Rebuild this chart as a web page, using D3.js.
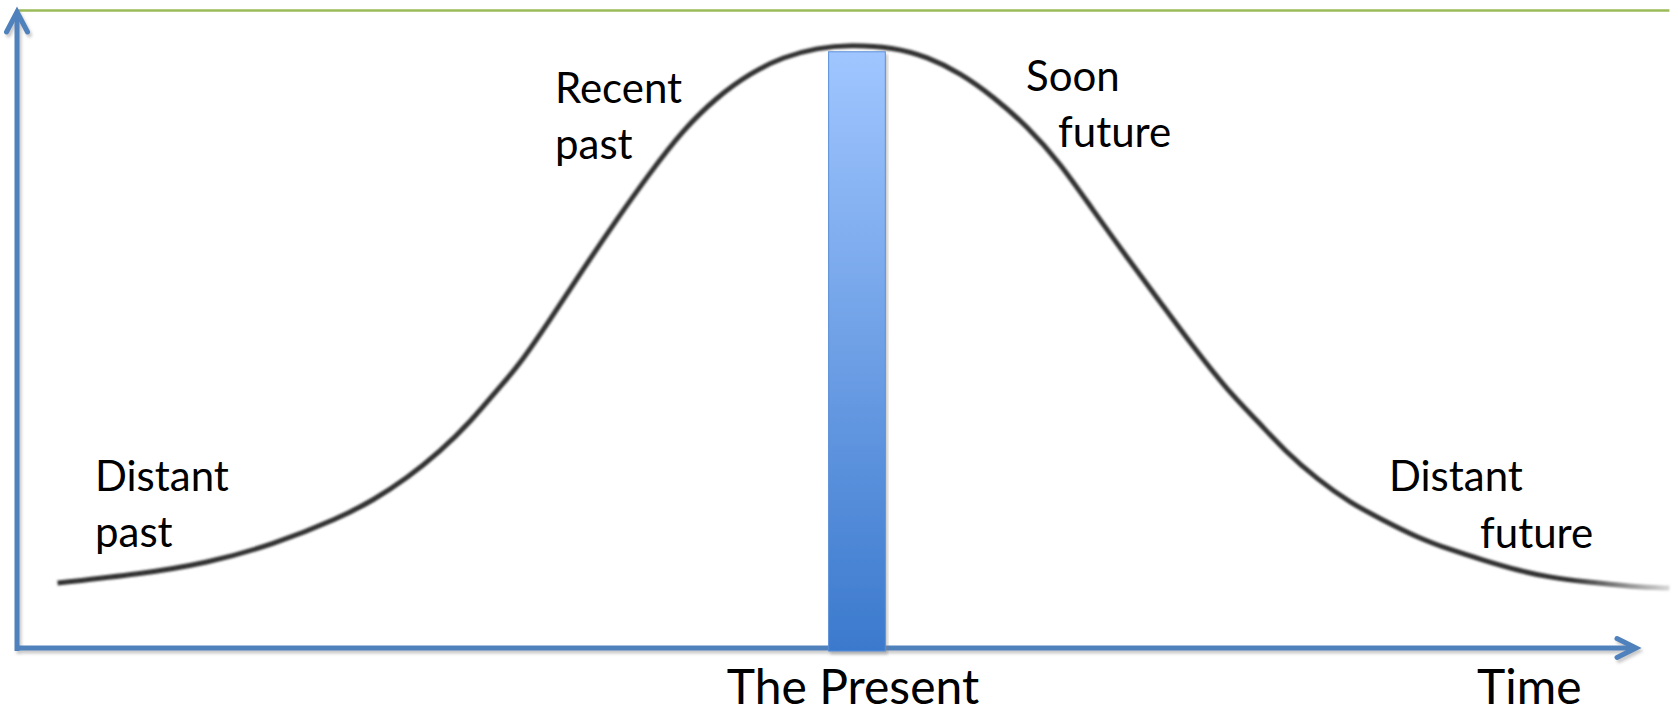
<!DOCTYPE html>
<html>
<head>
<meta charset="utf-8">
<script src="https://cdn.jsdelivr.net/npm/d3@7"></script>
<style>
  html, body { margin: 0; padding: 0; background: #fff; }
  svg { display: block; }
</style>
</head>
<body>
<div id="chart"></div>
<script>
// time runs 0..100 along the axis, attention 0..100 up the axis
const timeValues = [2.5, 7.6, 11.7, 15.8, 19.9, 22.0, 24.1, 26.1, 28.0, 29.8, 30.9, 32.9, 34.9, 37.0, 39.1, 41.1, 43.2, 45.3, 47.3, 49.4, 51.4,
  54.1, 56.2, 58.2, 60.3, 62.4, 64.4, 66.4, 68.5, 70.6, 72.6, 74.7, 76.7, 78.2, 80.3, 82.3, 84.3, 86.4, 88.5, 90.5, 92.6, 94.6, 96.7, 99.8, 102.0];
const attentionValues = [10.2, 11.6, 13.3, 16.2, 20.4, 23.2, 26.7, 30.8, 35.5, 41.0, 44.1, 51.5, 59.3, 67.2, 74.7, 81.3, 86.5, 90.3, 92.8, 94.2, 94.7,
  94.3, 92.8, 90.3, 86.5, 81.8, 76.1, 68.8, 61.4, 54.2, 47.3, 40.5, 35.3, 31.1, 26.4, 22.8, 20.1, 17.4, 15.4, 13.8, 12.2, 11.1, 10.4, 9.6, 9.4];
const presentSpan = [50.1, 53.6];
const presentValue = 93.6;
const curveLabels = [["Recent", "past"], ["Soon", "future"], ["Distant", "past"], ["Distant", "future"]];
const axisLabels = ["The Present", "Time"];

const width = 1678, height = 717;
const axisBlue = "#4f81bd";
const font = "Lato, 'Open Sans', sans-serif";

const svg = d3.select("#chart").append("svg")
  .attr("width", width)
  .attr("height", height);

const x = d3.scaleLinear().domain([0, 100]).range([17, 1637]);
const y = d3.scaleLinear().domain([0, 100]).range([648, 11]);

const defs = svg.append("defs");

const grad = defs.append("linearGradient")
  .attr("id", "barGrad")
  .attr("x1", 0).attr("y1", 0).attr("x2", 0).attr("y2", 1);
grad.append("stop").attr("offset", "0%").attr("stop-color", "#a0c6ff");
grad.append("stop").attr("offset", "100%").attr("stop-color", "#3b79cd");

// right tail of the curve fades out
const fade = defs.append("linearGradient")
  .attr("id", "curveFade")
  .attr("gradientUnits", "userSpaceOnUse")
  .attr("x1", x(96)).attr("y1", 0).attr("x2", x(102)).attr("y2", 0);
fade.append("stop").attr("offset", "0%").attr("stop-color", "#333");
fade.append("stop").attr("offset", "100%").attr("stop-color", "#d8d8d8");

const shadow = defs.append("filter").attr("id", "shadow")
  .attr("x", "-5%").attr("y", "-5%").attr("width", "110%").attr("height", "110%");
shadow.append("feDropShadow")
  .attr("dx", 2).attr("dy", 3).attr("stdDeviation", 1.5)
  .attr("flood-color", "#888").attr("flood-opacity", 0.45);

const soft = defs.append("filter").attr("id", "soft");
soft.append("feGaussianBlur").attr("stdDeviation", 0.9);

// green top rule
svg.append("line")
  .attr("x1", x(0)).attr("x2", x(102))
  .attr("y1", y(100) - 0.5).attr("y2", y(100) - 0.5)
  .attr("stroke", "#9bbb59")
  .attr("stroke-width", 2.5);

// curve
const pts = timeValues.map((t, i) => [t, attentionValues[i]]);
const line = d3.line()
  .x(d => x(d[0]))
  .y(d => y(d[1]))
  .curve(d3.curveBasis);

svg.append("path")
  .datum(pts)
  .attr("d", line)
  .attr("fill", "none")
  .attr("stroke", "url(#curveFade)")
  .attr("stroke-width", 5)
  .attr("stroke-linecap", "butt")
  .attr("filter", "url(#soft)");

// axes
const axes = svg.append("g").attr("filter", "url(#shadow)");
axes.append("line")
  .attr("x1", x(0)).attr("x2", x(0))
  .attr("y1", y(0) + 3).attr("y2", y(100) + 2)
  .attr("stroke", axisBlue).attr("stroke-width", 5);
axes.append("line")
  .attr("x1", x(0) - 2).attr("x2", x(100) - 2)
  .attr("y1", y(0)).attr("y2", y(0))
  .attr("stroke", axisBlue).attr("stroke-width", 5);
axes.append("polyline")
  .attr("points", [[x(0) - 10.5, y(100) + 21], [x(0), y(100) + 1], [x(0) + 10.5, y(100) + 21]].join(" "))
  .attr("fill", "none").attr("stroke", axisBlue).attr("stroke-width", 5)
  .attr("stroke-linecap", "round");
axes.append("polyline")
  .attr("points", [[x(100) - 20, y(0) - 9.5], [x(100) - 1, y(0)], [x(100) - 20, y(0) + 9.5]].join(" "))
  .attr("fill", "none").attr("stroke", axisBlue).attr("stroke-width", 5)
  .attr("stroke-linecap", "round");

// the present bar
svg.append("rect")
  .attr("x", x(presentSpan[0]))
  .attr("y", y(presentValue))
  .attr("width", x(presentSpan[1]) - x(presentSpan[0]))
  .attr("height", y(0) + 3 - y(presentValue))
  .attr("fill", "url(#barGrad)")
  .attr("stroke", "#5a8fd8")
  .attr("stroke-width", 1)
  .attr("filter", "url(#shadow)");

// labels along the curve
const labelPos = [
  [[555, 103], [555, 159]],
  [[1026, 91], [1058, 147]],
  [[95, 491], [95, 547]],
  [[1389, 491], [1480, 548]]
];
curveLabels.forEach((lines, i) => {
  lines.forEach((txt, j) => {
    svg.append("text")
      .attr("x", labelPos[i][j][0])
      .attr("y", labelPos[i][j][1])
      .attr("font-family", font)
      .attr("font-size", 42)
      .attr("fill", "#000")
      .text(txt);
  });
});

// bottom labels
svg.append("text")
  .attr("x", (x(presentSpan[0]) + x(presentSpan[1])) / 2 - 4)
  .attr("y", 704)
  .attr("text-anchor", "middle")
  .attr("font-family", font)
  .attr("font-size", 48)
  .attr("fill", "#000")
  .text(axisLabels[0]);

svg.append("text")
  .attr("x", 1477)
  .attr("y", 704)
  .attr("font-family", font)
  .attr("font-size", 48)
  .attr("fill", "#000")
  .text(axisLabels[1]);
</script>
</body>
</html>
